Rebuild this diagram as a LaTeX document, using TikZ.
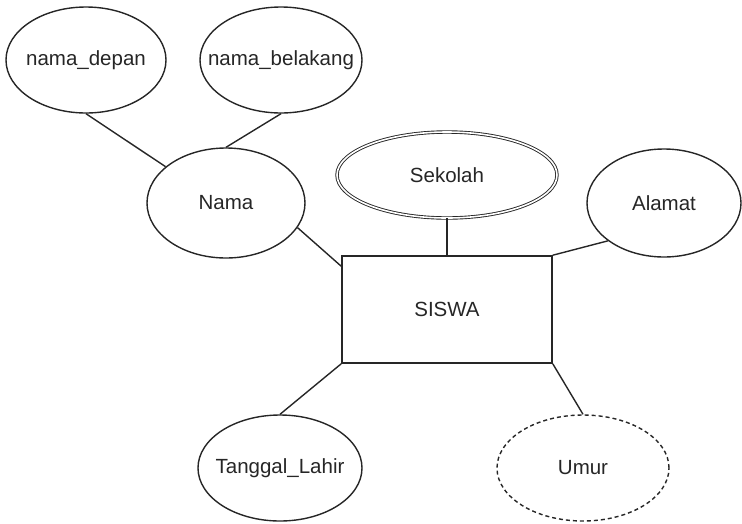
\documentclass[tikz,border=0pt]{standalone}
\usepackage{fontspec}
\setmainfont{Liberation Sans}
\usetikzlibrary{shapes.geometric}
\definecolor{ink}{HTML}{262626}
% zero-width label box, so the ellipse size comes from minimum width/height only
\newcommand{\lbl}[1]{\makebox[0pt]{#1}}
\tikzset{
  attr/.style={ellipse, draw=ink, line width=1.4pt, inner sep=0pt, text=ink,
    font=\fontsize{20.5}{24}\selectfont},
  entity/.style={rectangle, draw=ink, line width=1.6pt, inner sep=0pt, text=ink,
    font=\fontsize{20.5}{24}\selectfont},
  multival/.style={attr, line width=0.9pt, double, double distance=1.6pt},
  derived/.style={attr, dash pattern=on 4pt off 3pt},
  link/.style={draw=ink, line width=1.4pt}
}
\begin{document}
\begin{tikzpicture}[x=1pt, y=-1pt]
\useasboundingbox (0,0) rectangle (742,523);

% attributes and entity
\node[attr, minimum width=160pt, minimum height=106pt] (depan) at (86,60) {\lbl{nama\_depan}};
\node[attr, minimum width=162pt, minimum height=106pt] (belakang) at (281,60) {\lbl{nama\_belakang}};
\node[attr, minimum width=158pt, minimum height=110pt] (nama) at (226,203) {\lbl{Nama}};
\node[multival, minimum width=220pt, minimum height=86pt] (sekolah) at (447,175) {\lbl{Sekolah}};
\node[attr, minimum width=154pt, minimum height=108pt] (alamat) at (664,203) {\lbl{Alamat}};
\node[entity, minimum width=210pt, minimum height=107pt] (siswa) at (447,309.5) {\lbl{SISWA}};
\node[attr, minimum width=164pt, minimum height=106pt] (tanggal) at (280,468) {\lbl{Tanggal\_Lahir}};
\node[derived, minimum width=172pt, minimum height=106pt] (umur) at (583,468) {\lbl{Umur}};

% connectors
\draw[link] (depan.south) -- (nama.149);
\draw[link] (belakang.south) -- (nama.north);
\draw[link] (nama.-19) -- ([yshift=-11pt]siswa.north west);
\draw[link] (sekolah.south) -- (siswa.north);
\draw[link] (alamat.-146) -- (siswa.north east);
\draw[link] (siswa.south west) -- (tanggal.north);
\draw[link] (siswa.south east) -- (umur.north);
\end{tikzpicture}
\end{document}
